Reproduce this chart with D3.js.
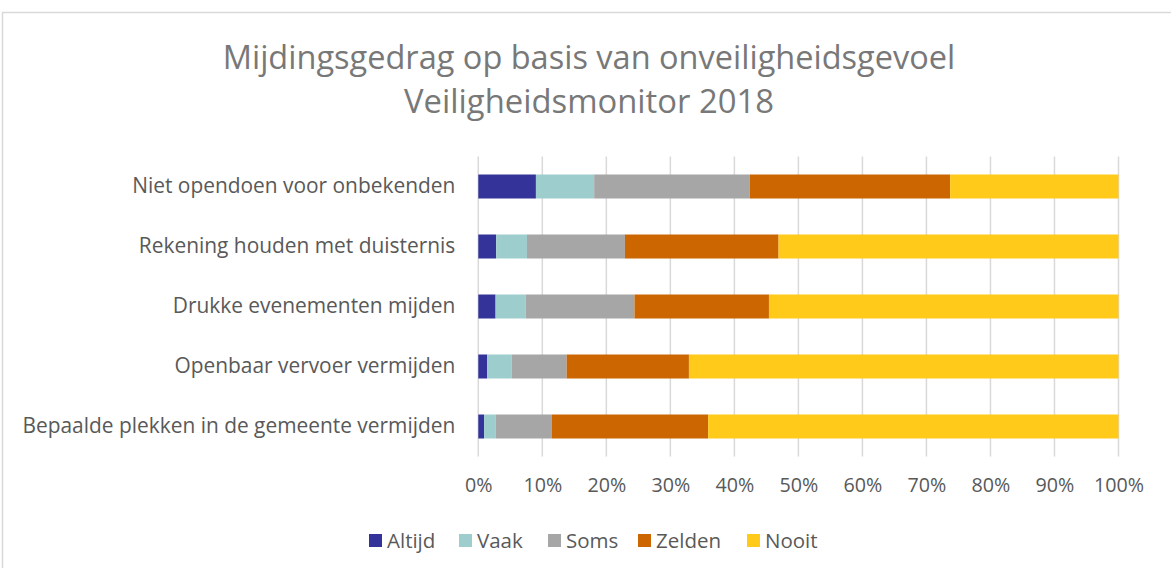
<!DOCTYPE html>
<html>
<head>
<meta charset="utf-8">
<script src="https://cdn.jsdelivr.net/npm/d3@7"></script>
<style>
  body { margin: 0; background: #fff; }
  text { font-family: "Open Sans", "Noto Sans", sans-serif; }
</style>
</head>
<body>
<svg id="chart"></svg>
<script>
// categories, top to bottom
var categories = [
  "Niet opendoen voor onbekenden",
  "Rekening houden met duisternis",
  "Drukke evenementen mijden",
  "Openbaar vervoer vermijden",
  "Bepaalde plekken in de gemeente vermijden"
];
var seriesNames = ["Altijd", "Vaak", "Soms", "Zelden", "Nooit"];

// percentages per series, in category order
var altijd = [9.0, 2.8, 2.7, 1.4, 0.9];
var vaak = [9.1, 4.8, 4.7, 3.8, 1.8];
var soms = [24.3, 15.3, 17.0, 8.6, 8.8];
var zelden = [31.3, 24.0, 21.0, 19.1, 24.4];
var nooit = [26.3, 53.1, 54.6, 67.1, 64.1];

var tickValues = [0, 10, 20, 30, 40, 50, 60, 70, 80, 90, 100];
var colors = ["#333399", "#9dcdcd", "#a6a6a6", "#cc6600", "#ffca1a"];

var width = 1171;
var height = 568;
var margin = { top: 156.5, right: 52.5, bottom: 111.5, left: 478.3 };

var svg = d3.select("#chart").attr("width", width).attr("height", height);

// outer chart border (runs off the right and bottom edges)
svg.append("rect")
  .attr("x", 2.5)
  .attr("y", 12.5)
  .attr("width", width + 10)
  .attr("height", height + 10)
  .attr("fill", "#fff")
  .attr("stroke", "#d9d9d9")
  .attr("stroke-width", 1.5);

// title, fitted to the width it has in the original
function fitText(sel, target) {
  var w = sel.node().getComputedTextLength();
  var fs = parseFloat(sel.style("font-size"));
  sel.style("font-size", (fs * target / w) + "px");
}

var t1 = svg.append("text")
  .attr("x", 589).attr("y", 69)
  .attr("text-anchor", "middle")
  .style("font-size", "32px")
  .style("fill", "#787878")
  .text("Mijdingsgedrag op basis van onveiligheidsgevoel");
fitText(t1, 733);

var t2 = svg.append("text")
  .attr("x", 589).attr("y", 113)
  .attr("text-anchor", "middle")
  .style("font-size", "32px")
  .style("fill", "#787878")
  .text("Veiligheidsmonitor 2018");
fitText(t2, 370);

var x = d3.scaleLinear()
  .domain([0, 100])
  .range([margin.left, width - margin.right]);

var y = d3.scaleBand()
  .domain(categories)
  .range([margin.top, height - margin.bottom])
  .paddingInner(0.6)
  .paddingOuter(0.3);

// gridlines
svg.append("g")
  .selectAll("line")
  .data(tickValues)
  .enter()
  .append("line")
  .attr("x1", function (d) { return x(d); })
  .attr("x2", function (d) { return x(d); })
  .attr("y1", margin.top)
  .attr("y2", height - margin.bottom)
  .attr("stroke", "#d9d9d9")
  .attr("stroke-width", 1.5);

// x axis labels
var xAxis = svg.append("g")
  .attr("transform", "translate(0," + (height - margin.bottom) + ")")
  .call(d3.axisBottom(x).tickValues(tickValues).tickSize(0).tickPadding(22)
    .tickFormat(function (d) { return d + "%"; }));
xAxis.select(".domain").remove();
xAxis.selectAll("text")
  .attr("font-family", null)
  .style("font-size", "19.7px")
  .style("fill", "#595959");

// y axis labels
var yAxis = svg.append("g")
  .attr("transform", "translate(" + (margin.left - 23) + ",0)")
  .call(d3.axisLeft(y).tickSize(0).tickPadding(0));
yAxis.select(".domain").remove();
yAxis.selectAll("text")
  .attr("font-family", null)
  .style("font-size", "20.9px")
  .style("fill", "#595959");

// stacked data
var data = categories.map(function (c, i) {
  return { cat: c, Altijd: altijd[i], Vaak: vaak[i], Soms: soms[i], Zelden: zelden[i], Nooit: nooit[i] };
});
var stacked = d3.stack().keys(seriesNames)(data);

svg.append("g")
  .selectAll("g")
  .data(stacked)
  .enter()
  .append("g")
  .attr("fill", function (d, i) { return colors[i]; })
  .selectAll("rect")
  .data(function (d) { return d; })
  .enter()
  .append("rect")
  .attr("x", function (d) { return x(d[0]); })
  .attr("width", function (d) { return x(d[1]) - x(d[0]); })
  .attr("y", function (d) { return y(d.data.cat); })
  .attr("height", y.bandwidth());

// legend
var legendX = [369, 459, 548, 638, 747];
var legend = svg.append("g")
  .selectAll("g")
  .data(seriesNames)
  .enter()
  .append("g")
  .attr("transform", function (d, i) { return "translate(" + legendX[i] + ",534)"; });

legend.append("rect")
  .attr("width", 13)
  .attr("height", 13)
  .attr("fill", function (d, i) { return colors[i]; });

legend.append("text")
  .attr("x", 18)
  .attr("y", 7)
  .attr("dy", "0.35em")
  .style("font-size", "20.5px")
  .style("fill", "#595959")
  .text(function (d) { return d; });
</script>
</body>
</html>
